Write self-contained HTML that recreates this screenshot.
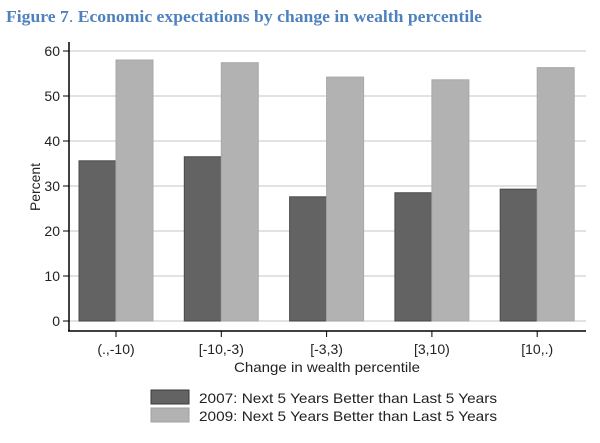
<!DOCTYPE html>
<html><head><meta charset="utf-8"><style>
body{margin:0;background:#fff;width:600px;height:438px;overflow:hidden}
svg{font-family:"Liberation Sans",Arial,sans-serif}
</style></head><body>
<svg width="600" height="438">
<text x="6" y="22" font-family="Liberation Serif,serif" font-weight="bold" font-size="16.5" fill="#4f81bd" textLength="476" lengthAdjust="spacingAndGlyphs">Figure 7<tspan font-weight="normal">.</tspan> Economic expectations by change in wealth percentile</text>
<g id="grid"></g>
<g id="bars"></g>
<g id="axes"></g>
<text x="327" y="372" text-anchor="middle" font-size="14" fill="#222" textLength="186" lengthAdjust="spacingAndGlyphs">Change in wealth percentile</text>
<text transform="translate(40,187) rotate(-90)" text-anchor="middle" font-size="14" fill="#222" textLength="48" lengthAdjust="spacingAndGlyphs">Percent</text>
<g>
<rect x="151" y="390" width="38" height="14" fill="#636363" stroke="#3a3a3a"/>
<text x="199" y="403" font-size="14" fill="#222" textLength="298" lengthAdjust="spacingAndGlyphs">2007: Next 5 Years Better than Last 5 Years</text>
<rect x="151" y="408" width="38" height="14" fill="#b2b2b2" stroke="#a0a0a0"/>
<text x="199" y="421" font-size="14" fill="#222" textLength="298" lengthAdjust="spacingAndGlyphs">2009: Next 5 Years Better than Last 5 Years</text>
</g>
</svg>
<script>
const categories=["(.,-10)","[-10,-3)","[-3,3)","[3,10)","[10,.)"];
const values2007=[35.6,36.5,27.6,28.5,29.3];
const values2009=[58.0,57.4,54.2,53.6,56.3];
const yTicks=[0,10,20,30,40,50,60];
const NS="http://www.w3.org/2000/svg";
const y=v=>321-v*4.5;
const xc=i=>116+i*105.3;
function mk(t,a,p){const e=document.createElementNS(NS,t);for(const k in a)e.setAttribute(k,a[k]);p.appendChild(e);return e;}
const grid=document.getElementById('grid'),bars=document.getElementById('bars'),axes=document.getElementById('axes');
yTicks.forEach(t=>{
 const g=mk('line',{x1:69,x2:586,y1:y(t),y2:y(t),stroke:'#d0d0d0','stroke-width':1.3},grid);
 
 
 mk('line',{x1:63,x2:69,y1:y(t),y2:y(t),stroke:'#000'},axes);
 const l=mk('text',{x:60,y:y(t)+5,'text-anchor':'end','font-size':14,fill:'#222'},axes);l.textContent=t;
 
 
});
categories.forEach((c,i)=>{
 const b1=mk('rect',{x:xc(i)-37,y:y(values2007[i]),width:37,height:y(0)-y(values2007[i]),fill:'#636363',stroke:'#4a4a4a'},bars);
 
 
 const b2=mk('rect',{x:xc(i),y:y(values2009[i]),width:37,height:y(0)-y(values2009[i]),fill:'#b2b2b2',stroke:'#a8a8a8'},bars);
 
 
 mk('line',{x1:xc(i),x2:xc(i),y1:331,y2:337,stroke:'#000'},axes);
 const l=mk('text',{x:xc(i),y:354,'text-anchor':'middle','font-size':14,fill:'#222'},axes);l.textContent=c;
 
 
});
mk('line',{x1:69,x2:69,y1:42,y2:331.5,stroke:'#000','stroke-width':1.5},axes);
mk('line',{x1:68,x2:586,y1:331,y2:331,stroke:'#000','stroke-width':1.5},axes);
</script>
</body></html>
